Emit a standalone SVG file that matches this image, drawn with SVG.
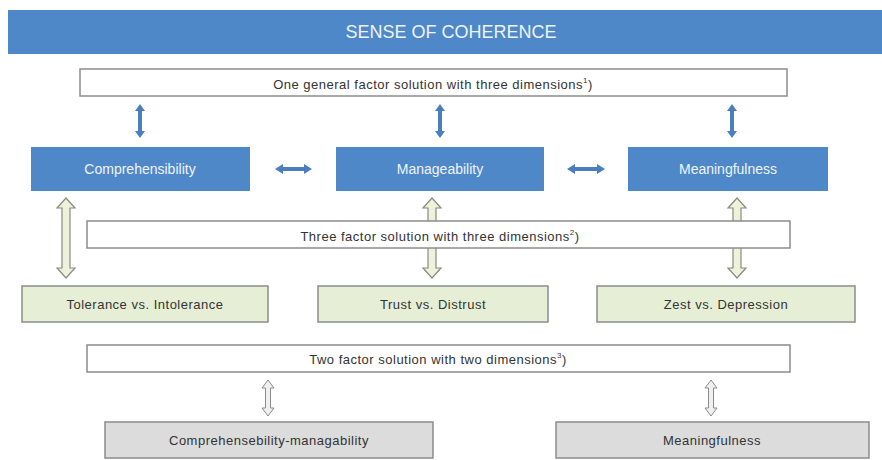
<svg xmlns="http://www.w3.org/2000/svg" width="882" height="460" viewBox="0 0 882 460">
<defs>
<style>
text{font-family:"Liberation Sans",Arial,Helvetica,sans-serif;text-anchor:middle;dominant-baseline:central}
.blue{fill:#4f88c8}
.wtxt{fill:#eef4fb;font-size:14px}
.sol{fill:#ffffff;stroke:#8c8c8c;stroke-width:1.5}
.stxt{fill:#333;font-size:13px;letter-spacing:0.5px}
.green{fill:#e6efd6;stroke:#8c8c8c;stroke-width:1.5}
.grey{fill:#dcdcdc;stroke:#8c8c8c;stroke-width:1.5}
.barr{fill:#4a7fbf}
.harr{fill:#eef2da;stroke:#8a8a80;stroke-width:1.2}
.garr{fill:#f0f0f0;stroke:#8a8a8a;stroke-width:1}
.sup{font-size:8px}
</style>
</defs>
<rect width="882" height="460" fill="#ffffff"/>
<g id="connectors">
<polygon class="barr" points="140,104 145,111 142,111 142,131 145,131 140,138 135,131 138,131 138,111 135,111"/>
<polygon class="barr" points="440,104 445,111 442,111 442,131 445,131 440,138 435,131 438,131 438,111 435,111"/>
<polygon class="barr" points="732,104 737,111 734,111 734,131 737,131 732,138 727,131 730,131 730,111 727,111"/>
<polygon class="barr" points="275,169 283,164 283,167 304,167 304,164 312,169 304,174 304,171 283,171 283,174"/>
<polygon class="barr" points="567,169 575,164 575,167 597,167 597,164 605,169 597,174 597,171 575,171 575,174"/>
<polygon class="harr" points="66,198 75,208 70,208 70,268 75,268 66,278 57,268 62,268 62,208 57,208"/>
<polygon class="harr" points="432,198 441,208 436,208 436,268 441,268 432,278 423,268 428,268 428,208 423,208"/>
<polygon class="harr" points="737,198 746,208 741,208 741,268 746,268 737,278 728,268 733,268 733,208 728,208"/>
<polygon class="garr" points="268,380 274,388 270.5,388 270.5,408 274,408 268,416 262,408 265.5,408 265.5,388 262,388"/>
<polygon class="garr" points="711,380 717,388 713.5,388 713.5,408 717,408 711,416 705,408 708.5,408 708.5,388 705,388"/>
</g>
<g id="banner">
<rect class="blue" x="8" y="10" width="874" height="44"/>
<text x="451" y="32" fill="#eef4fb" style="font-size:18px">SENSE OF COHERENCE</text>
</g>
<g id="sol1">
<rect class="sol" x="80" y="69" width="707" height="27"/>
<text class="stxt" x="433" y="84">One general factor solution with three dimensions<tspan class="sup" dy="-4">1</tspan><tspan dy="4">)</tspan></text>
</g>
<g id="comprehensibility">
<rect class="blue" x="31" y="147" width="219" height="44"/>
<text class="wtxt" x="140" y="169">Comprehensibility</text>
</g>
<g id="manageability">
<rect class="blue" x="336" y="147" width="208" height="44"/>
<text class="wtxt" x="440" y="169">Manageability</text>
</g>
<g id="meaningfulness">
<rect class="blue" x="628" y="147" width="200" height="44"/>
<text class="wtxt" x="728" y="169">Meaningfulness</text>
</g>
<g id="sol2">
<rect class="sol" x="87" y="221" width="703" height="27"/>
<text class="stxt" x="440" y="236">Three factor solution with three dimensions<tspan class="sup" dy="-4">2</tspan><tspan dy="4">)</tspan></text>
</g>
<g id="tolerance">
<rect class="green" x="22" y="286" width="246" height="36"/>
<text class="stxt" x="145" y="304">Tolerance vs. Intolerance</text>
</g>
<g id="trust">
<rect class="green" x="318" y="286" width="230" height="36"/>
<text class="stxt" x="433" y="304">Trust vs. Distrust</text>
</g>
<g id="zest">
<rect class="green" x="597" y="286" width="258" height="36"/>
<text class="stxt" x="726" y="304">Zest vs. Depression</text>
</g>
<g id="sol3">
<rect class="sol" x="87" y="345" width="703" height="27"/>
<text class="stxt" x="438" y="359">Two factor solution with two dimensions<tspan class="sup" dy="-4">3</tspan><tspan dy="4">)</tspan></text>
</g>
<g id="compman">
<rect class="grey" x="105" y="422" width="328" height="36"/>
<text class="stxt" x="269" y="440">Comprehensebility-managability</text>
</g>
<g id="meaning2">
<rect class="grey" x="556" y="422" width="313" height="36"/>
<text class="stxt" x="712" y="440">Meaningfulness</text>
</g>
</svg>
